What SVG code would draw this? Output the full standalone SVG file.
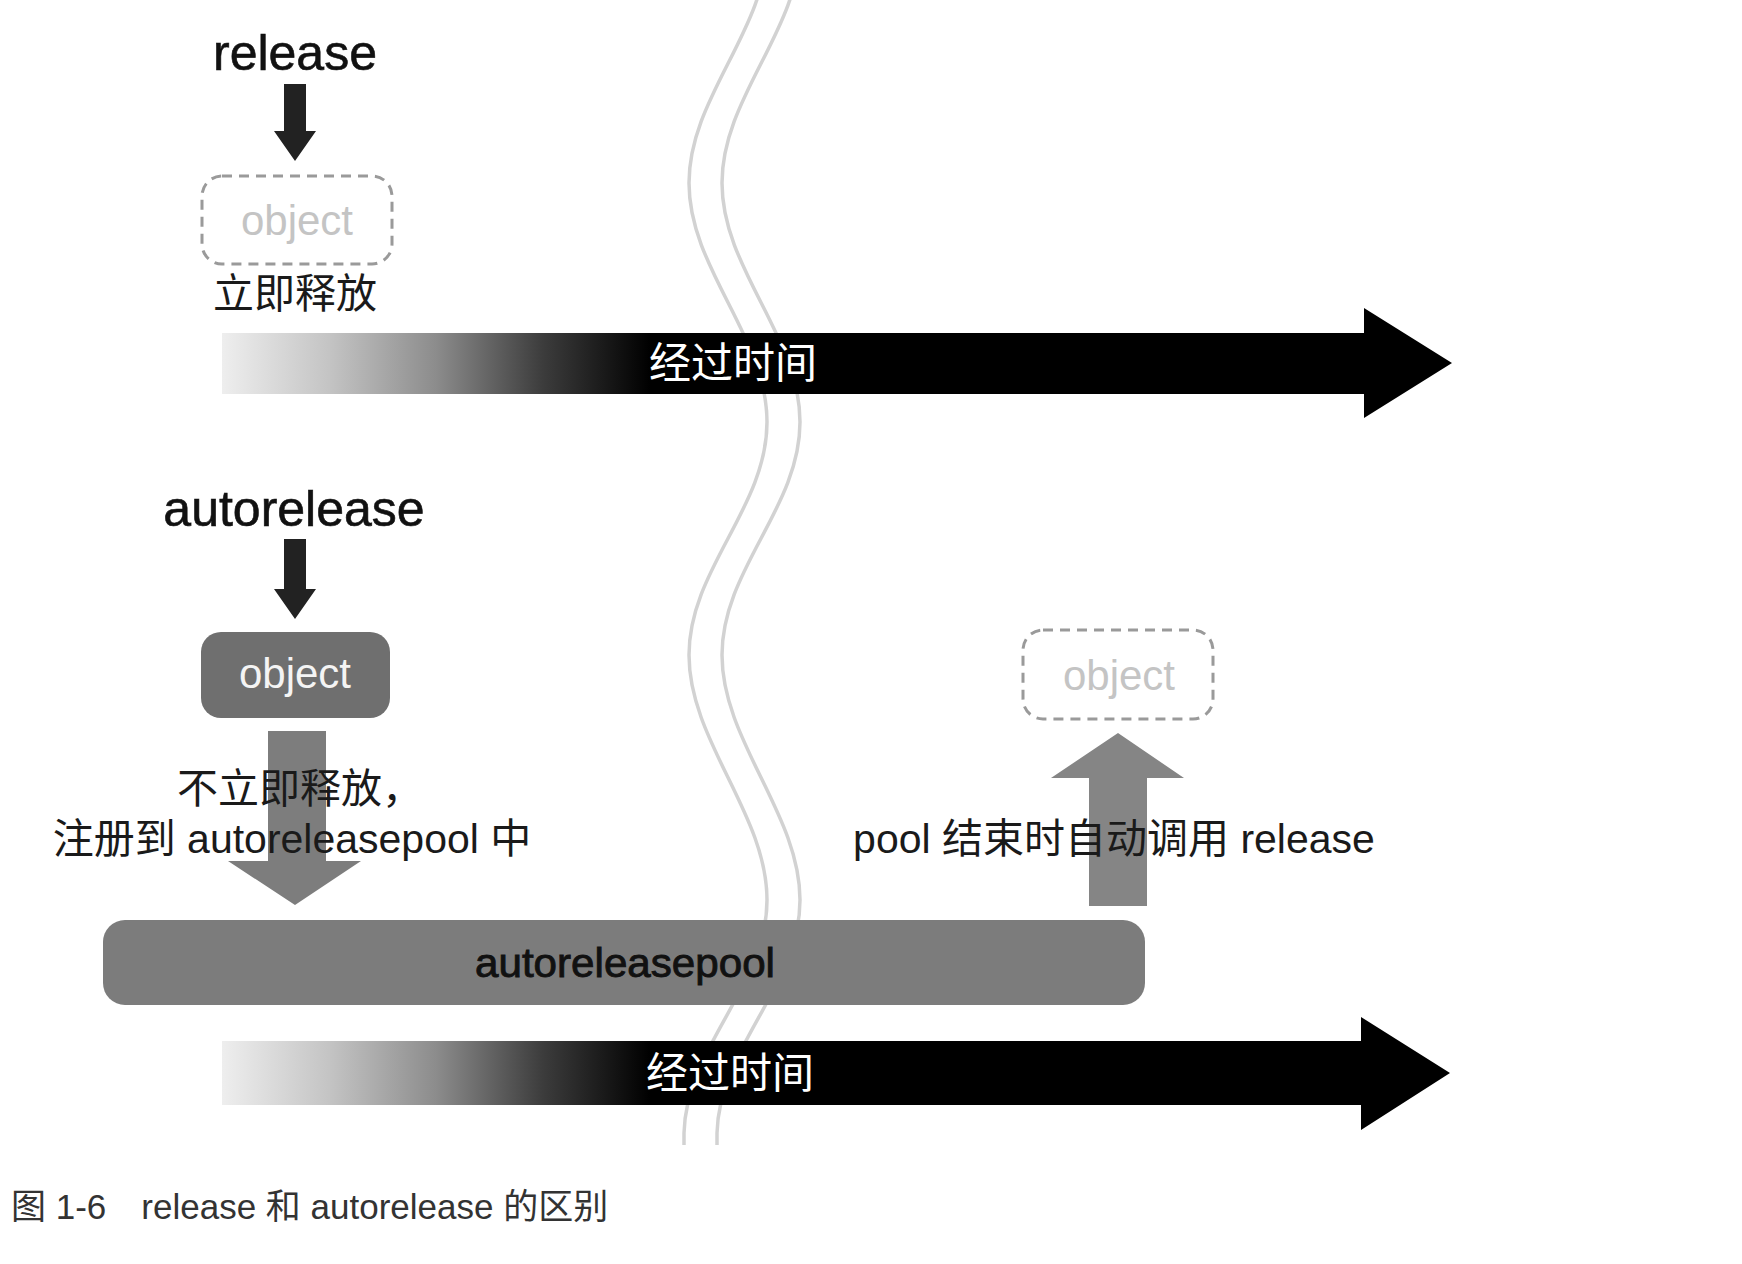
<svg xmlns="http://www.w3.org/2000/svg" width="1742" height="1264" viewBox="0 0 1742 1264">
<style>
.lat{font-family:"Liberation Sans","Noto Sans CJK SC",Arial,sans-serif}
.cjk{font-family:"Liberation Sans","Noto Sans CJK SC",sans-serif}
.title{font-size:50px;fill:#111;text-anchor:middle;stroke:#111;stroke-width:0.6}
.lbl{font-size:41px;fill:#1a1a1a;text-anchor:middle}
.ghost{fill:#fff;stroke:#9a9a9a;stroke-width:3;stroke-dasharray:10 7}
.ghosttxt{font-size:42px;fill:#c4c4c4;text-anchor:middle}
.wave{fill:none;stroke:#d2d2d2;stroke-width:3.5}
.time{font-size:42px;fill:#fff;text-anchor:middle}
</style>
<defs>
<linearGradient id="tg" gradientUnits="userSpaceOnUse" x1="222" y1="0" x2="650" y2="0">
<stop offset="0" stop-color="#eeeeee"/>
<stop offset="0.25" stop-color="#c4c4c4"/>
<stop offset="0.5" stop-color="#8c8c8c"/>
<stop offset="0.75" stop-color="#3c3c3c"/>
<stop offset="1" stop-color="#000"/>
</linearGradient>
</defs>
<rect width="1742" height="1264" fill="#fff"/>
<g id="wave">
<path class="wave" d="M767,-56 C767,30 689,97 689,183 C689,269 767,336 767,422 C767,508 689,569 689,655 C689,741 767,814 767,900 C767,986 686,1047 684,1133 L684,1145"/>
<path class="wave" d="M800,-56 C800,30 722,97 722,183 C722,269 800,336 800,422 C800,508 722,569 722,655 C722,741 800,814 800,900 C800,986 719,1047 717,1133 L717,1145"/>
</g>
<g id="timeline-top">
<path d="M222,333 H1364 V308 L1452,363 L1364,418 V394 H222 Z" fill="url(#tg)"/>
<text class="cjk time" x="733" y="378">经过时间</text>
</g>
<g id="timeline-bottom">
<path d="M222,1041 H1361 V1017 L1450,1073 L1361,1130 V1105 H222 Z" fill="url(#tg)"/>
<text class="cjk time" x="730" y="1088">经过时间</text>
</g>
<g id="release-label">
<text class="lat title" x="295" y="70">release</text>
</g>
<g id="release-object">
<rect class="ghost" x="202" y="176" width="190" height="88" rx="20"/>
<text class="lat ghosttxt" x="297" y="235">object</text>
<text class="cjk lbl" x="295" y="308">立即释放</text>
</g>
<g id="autorelease-label">
<text class="lat title" x="294" y="526">autorelease</text>
</g>
<g id="autorelease-object">
<rect x="201" y="632" width="189" height="86" rx="20" fill="#6f6f6f"/>
<text class="lat" x="295" y="688" font-size="42" fill="#f4f4f4" text-anchor="middle">object</text>
</g>
<g id="pool">
<rect x="103" y="920" width="1042" height="85" rx="22" fill="#7c7c7c"/>
<text class="lat" x="625" y="977" font-size="41" fill="#111" stroke="#111" stroke-width="0.9" text-anchor="middle" textLength="300" lengthAdjust="spacingAndGlyphs">autoreleasepool</text>
</g>
<g id="released-object">
<rect class="ghost" x="1023" y="630" width="190" height="89" rx="20"/>
<text class="lat ghosttxt" x="1119" y="690">object</text>
</g>
<g id="connectors">
<path d="M284,84 H306 V131 H316 L295,161 L274,131 H284 Z" fill="#222"/>
<path d="M284,539 H306 V589 H316 L295,619 L274,589 H284 Z" fill="#222"/>
<path d="M268,731 H326 V861 H361 L295,905 L228,861 H268 Z" fill="#7d7d7d"/>
<path d="M1089,906 V778 H1051 L1118,733 L1184,778 H1147 V906 Z" fill="#858585"/>
</g>
<g id="labels">
<text class="cjk lbl" x="300" y="803">不立即释放，</text>
<text class="cjk lbl" x="292" y="853" font-size="41.5" xml:space="preserve">注册到 autoreleasepool 中</text>
<text class="cjk lbl" x="1114" y="853" font-size="42" xml:space="preserve">pool 结束时自动调用 release</text>
</g>
<g id="caption">
<text class="cjk" x="11" y="1219" font-size="35" fill="#333" xml:space="preserve">图 1-6　release 和 autorelease 的区别</text>
</g>
</svg>
